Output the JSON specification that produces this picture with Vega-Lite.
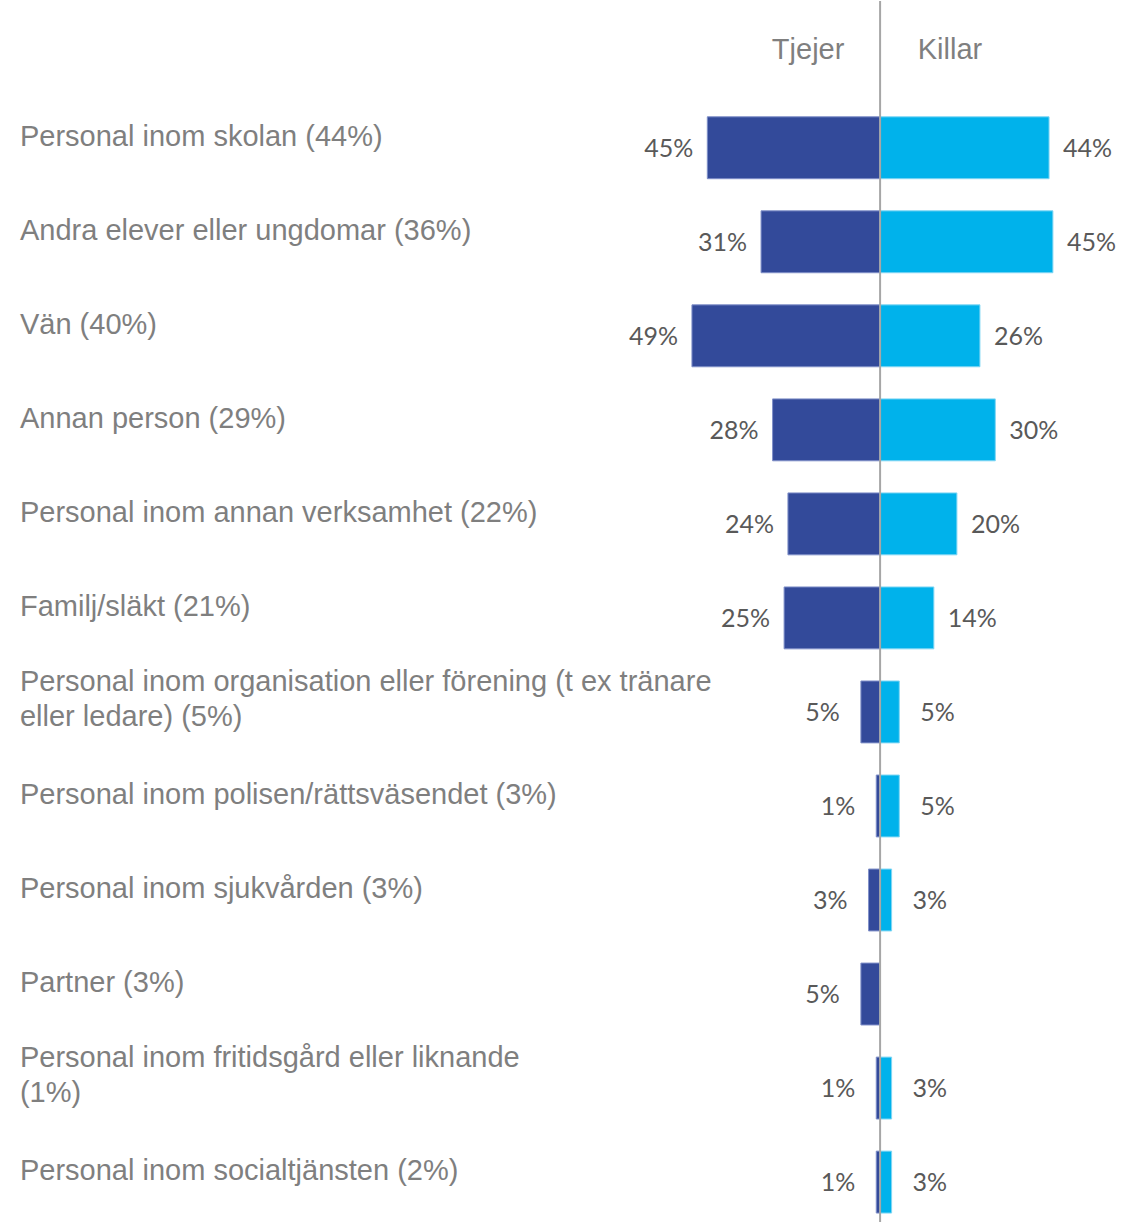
{
  "$schema": "https://vega.github.io/schema/vega-lite/v6.json",
  "width": 1127,
  "height": 1223,
  "autosize": {"type": "fit", "contains": "padding"},
  "padding": 0,
  "background": "white",
  "config": {"view": {"stroke": null}},
  "datasets": {
    "svar": [
      {"kategori": "Personal inom skolan", "etikett": "Personal inom skolan (44%)", "tjejer": 0.45, "killar": 0.44},
      {"kategori": "Andra elever eller ungdomar", "etikett": "Andra elever eller ungdomar (36%)", "tjejer": 0.31, "killar": 0.45},
      {"kategori": "Vän", "etikett": "Vän (40%)", "tjejer": 0.49, "killar": 0.26},
      {"kategori": "Annan person", "etikett": "Annan person (29%)", "tjejer": 0.28, "killar": 0.30},
      {"kategori": "Personal inom annan verksamhet", "etikett": "Personal inom annan verksamhet (22%)", "tjejer": 0.24, "killar": 0.20},
      {"kategori": "Familj/släkt", "etikett": "Familj/släkt (21%)", "tjejer": 0.25, "killar": 0.14},
      {"kategori": "Personal inom organisation eller förening (t ex tränare eller ledare)", "etikett": "Personal inom organisation eller förening (t ex tränare\neller ledare) (5%)", "tjejer": 0.05, "killar": 0.05},
      {"kategori": "Personal inom polisen/rättsväsendet", "etikett": "Personal inom polisen/rättsväsendet (3%)", "tjejer": 0.01, "killar": 0.05},
      {"kategori": "Personal inom sjukvården", "etikett": "Personal inom sjukvården (3%)", "tjejer": 0.03, "killar": 0.03},
      {"kategori": "Partner", "etikett": "Partner (3%)", "tjejer": 0.05, "killar": 0},
      {"kategori": "Personal inom fritidsgård eller liknande", "etikett": "Personal inom fritidsgård eller liknande\n(1%)", "tjejer": 0.01, "killar": 0.03},
      {"kategori": "Personal inom socialtjänsten", "etikett": "Personal inom socialtjänsten (2%)", "tjejer": 0.01, "killar": 0.03}
    ]
  },
  "resolve": {"scale": {"x": "independent"}},
  "encoding": {
    "y": {
      "field": "kategori",
      "type": "nominal",
      "axis": null,
      "sort": null,
      "scale": {
        "domain": ["rubrik", "Personal inom skolan", "Andra elever eller ungdomar", "Vän", "Annan person", "Personal inom annan verksamhet", "Familj/släkt", "Personal inom organisation eller förening (t ex tränare eller ledare)", "Personal inom polisen/rättsväsendet", "Personal inom sjukvården", "Partner", "Personal inom fritidsgård eller liknande", "Personal inom socialtjänsten"],
        "paddingInner": 0.3417,
        "paddingOuter": 0.1635,
        "align": 0.7084
      }
    }
  },
  "layer": [
    {
      "data": {"name": "svar"},
      "mark": {"type": "bar", "color": "#334a9a", "stroke": "#7f8fc8", "strokeWidth": 1},
      "encoding": {
        "x": {"field": "tjejer", "type": "quantitative", "axis": null, "scale": {"domain": [-0.643, 2.292], "reverse": true, "nice": false, "zero": false}}
      }
    },
    {
      "data": {"name": "svar"},
      "mark": {"type": "bar", "color": "#00b2eb", "stroke": "#7fd6f4", "strokeWidth": 1},
      "encoding": {
        "x": {"field": "killar", "type": "quantitative", "axis": null, "scale": {"domain": [-2.292, 0.643], "nice": false, "zero": false}}
      }
    },
    {
      "data": {"name": "svar"},
      "transform": [{"filter": "datum.tjejer >= 0.1"}],
      "mark": {"type": "text", "align": "right", "baseline": "middle", "dx": -14, "dy": 1, "font": "Lato", "fontSize": 25, "color": "#595959"},
      "encoding": {
        "x": {"field": "tjejer", "type": "quantitative", "axis": null, "scale": {"domain": [-0.643, 2.292], "reverse": true, "nice": false, "zero": false}},
        "text": {"field": "tjejer", "type": "quantitative", "format": ".0%"}
      }
    },
    {
      "data": {"name": "svar"},
      "transform": [{"filter": "datum.tjejer < 0.1"}],
      "mark": {"type": "text", "align": "right", "baseline": "middle", "dx": -21, "dy": 1, "font": "Lato", "fontSize": 25, "color": "#595959"},
      "encoding": {
        "x": {"field": "tjejer", "type": "quantitative", "axis": null, "scale": {"domain": [-0.643, 2.292], "reverse": true, "nice": false, "zero": false}},
        "text": {"field": "tjejer", "type": "quantitative", "format": ".0%"}
      }
    },
    {
      "data": {"name": "svar"},
      "transform": [{"filter": "datum.killar >= 0.1"}],
      "mark": {"type": "text", "align": "left", "baseline": "middle", "dx": 14, "dy": 1, "font": "Lato", "fontSize": 25, "color": "#595959"},
      "encoding": {
        "x": {"field": "killar", "type": "quantitative", "axis": null, "scale": {"domain": [-2.292, 0.643], "nice": false, "zero": false}},
        "text": {"field": "killar", "type": "quantitative", "format": ".0%"}
      }
    },
    {
      "data": {"name": "svar"},
      "transform": [{"filter": "datum.killar > 0 && datum.killar < 0.1"}],
      "mark": {"type": "text", "align": "left", "baseline": "middle", "dx": 21, "dy": 1, "font": "Lato", "fontSize": 25, "color": "#595959"},
      "encoding": {
        "x": {"field": "killar", "type": "quantitative", "axis": null, "scale": {"domain": [-2.292, 0.643], "nice": false, "zero": false}},
        "text": {"field": "killar", "type": "quantitative", "format": ".0%"}
      }
    },
    {
      "data": {"name": "svar"},
      "transform": [{"filter": "indexof(datum.etikett, '\\n') < 0"}],
      "mark": {"type": "text", "align": "left", "baseline": "middle", "dy": -11, "font": "Liberation Sans", "fontSize": 29, "lineHeight": 36, "lineBreak": "\n", "color": "#7f7f7f"},
      "encoding": {
        "x": {"datum": -2.24, "type": "quantitative", "axis": null, "scale": {"domain": [-2.292, 0.643], "nice": false, "zero": false}},
        "text": {"field": "etikett", "type": "nominal"}
      }
    },
    {
      "data": {"name": "svar"},
      "transform": [{"filter": "indexof(datum.etikett, '\\n') >= 0"}],
      "mark": {"type": "text", "align": "left", "baseline": "middle", "dy": -30, "font": "Liberation Sans", "fontSize": 29, "lineHeight": 35, "lineBreak": "\n", "color": "#7f7f7f"},
      "encoding": {
        "x": {"datum": -2.24, "type": "quantitative", "axis": null, "scale": {"domain": [-2.292, 0.643], "nice": false, "zero": false}},
        "text": {"field": "etikett", "type": "nominal"}
      }
    },
    {
      "data": {"values": [{"kategori": "rubrik", "kon": "Tjejer"}]},
      "mark": {"type": "text", "align": "center", "baseline": "middle", "dy": -4, "font": "Liberation Sans", "fontSize": 29, "color": "#7f7f7f"},
      "encoding": {
        "x": {"datum": -0.1875, "type": "quantitative", "axis": null, "scale": {"domain": [-2.292, 0.643], "nice": false, "zero": false}},
        "text": {"field": "kon", "type": "nominal"}
      }
    },
    {
      "data": {"values": [{"kategori": "rubrik", "kon": "Killar"}]},
      "mark": {"type": "text", "align": "center", "baseline": "middle", "dy": -4, "font": "Liberation Sans", "fontSize": 29, "color": "#7f7f7f"},
      "encoding": {
        "x": {"datum": 0.182, "type": "quantitative", "axis": null, "scale": {"domain": [-2.292, 0.643], "nice": false, "zero": false}},
        "text": {"field": "kon", "type": "nominal"}
      }
    },
    {
      "data": {"values": [{}]},
      "mark": {"type": "rule", "color": "#a6a6a6", "strokeWidth": 2},
      "encoding": {
        "x": {"datum": 0, "type": "quantitative", "axis": null, "scale": {"domain": [-2.292, 0.643], "nice": false, "zero": false}},
        "y": null
      }
    }
  ]
}
